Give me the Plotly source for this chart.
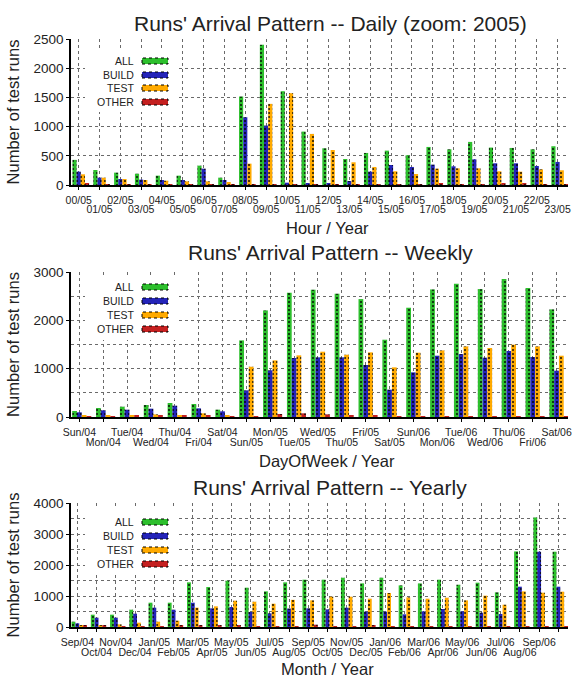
import plotly.graph_objects as go

# ---------------- data ----------------
hour_labels = ["00/05", "01/05", "02/05", "03/05", "04/05", "05/05", "06/05", "07/05",
               "08/05", "09/05", "10/05", "11/05", "12/05", "13/05", "14/05", "15/05",
               "16/05", "17/05", "18/05", "19/05", "20/05", "21/05", "22/05", "23/05"]
all_daily = [430, 257, 212, 194, 160, 160, 332, 126, 1516, 2402, 1607, 915,
             629, 446, 549, 589, 509, 652, 612, 738, 641, 635, 612, 664]
build_daily = [229, 126, 103, 92, 86, 86, 280, 86, 1161, 1018, 40, 34,
               34, 69, 229, 343, 309, 349, 320, 440, 372, 372, 326, 395]
test_daily = [183, 126, 103, 86, 74, 63, 63, 51, 366, 1390, 1573, 875,
              600, 389, 309, 235, 189, 280, 286, 286, 235, 229, 269, 252]
other_daily = [20, 15, 15, 10, 5, 5, 5, 10, 10, 10, 5, 5,
               10, 5, 17, 17, 17, 29, 17, 17, 34, 34, 17, 17]

dow_labels = ["Sun/04", "Mon/04", "Tue/04", "Wed/04", "Thu/04", "Fri/04", "Sat/04",
              "Sun/05", "Mon/05", "Tue/05", "Wed/05", "Thu/05", "Fri/05", "Sat/05",
              "Sun/06", "Mon/06", "Tue/06", "Wed/06", "Thu/06", "Fri/06", "Sat/06"]
all_weekly = [124, 186, 214, 248, 290, 269, 152, 1586, 2207, 2572, 2635, 2552, 2441, 1600,
              2262, 2641, 2759, 2648, 2855, 2669, 2228]
build_weekly = [97, 138, 152, 172, 234, 179, 117, 552, 966, 1221, 1235, 1235, 1076, 566,
                924, 1269, 1303, 1228, 1366, 1241, 959]
test_weekly = [21, 28, 41, 55, 41, 76, 28, 1041, 1172, 1276, 1352, 1290, 1338, 1028,
               1331, 1379, 1462, 1428, 1497, 1462, 1269]
other_weekly = [14, 14, 34, 34, 28, 34, 14, 14, 62, 76, 55, 34, 34, 14,
                7, 7, 5, 5, 5, 5, 5]

month_labels = ["Sep/04", "Oct/04", "Nov/04", "Dec/04", "Jan/05", "Feb/05", "Mar/05",
                "Apr/05", "May/05", "Jun/05", "Jul/05", "Aug/05", "Sep/05", "Oct/05",
                "Nov/05", "Dec/05", "Jan/06", "Feb/06", "Mar/06", "Apr/06", "May/06",
                "Jun/06", "Jul/06", "Aug/06", "Sep/06", "Oct/06"]
all_yearly = [172, 398, 398, 559, 785, 785, 1441, 1290, 1494, 1269, 1150, 1441, 1527,
              1527, 1591, 1408, 1591, 1344, 1408, 1527, 1365, 1430, 1118, 2440, 3537, 2430]
build_yearly = [118, 301, 301, 430, 624, 559, 785, 602, 645, 484, 441, 596, 602,
                570, 624, 495, 495, 409, 505, 581, 505, 462, 419, 1301, 2430, 1301]
test_yearly = [43, 54, 86, 140, 172, 204, 624, 667, 849, 817, 752, 876, 860,
               978, 978, 914, 1097, 957, 914, 946, 860, 1011, 720, 1150, 1107, 1140]
other_yearly = [54, 43, 22, 11, 22, 54, 43, 65, 43, 5, 5, 5, 75,
                22, 32, 43, 5, 3, 3, 3, 3, 3, 3, 3, 3, 3]

series_names = ["ALL", "BUILD", "TEST", "OTHER"]
series_colors = ["#2dbf2d", "#2424b8", "#ffaa00", "#c42020"]

titles = ["Runs' Arrival Pattern -- Daily (zoom: 2005)",
          "Runs' Arrival Pattern -- Weekly",
          "Runs' Arrival Pattern -- Yearly"]
xtitles = ["Hour / Year", "DayOfWeek / Year", "Month / Year"]
ytitle = "Number of test runs"

# ---------------- layout geometry (pixels) ----------------
W, H = 573, 677
L, R = 71, 568
panels = [
    dict(top=39, bottom=185, ymax=2500, dtick=500, xr=[-0.37, 23.5], gap=9,
         labels=hour_labels, data=[all_daily, build_daily, test_daily, other_daily],
         title_y=23, xtitle_y=228, leg_y=[61, 75, 88, 102], box=[85, 177, 49, 112]),
    dict(top=272, bottom=417, ymax=3000, dtick=1000, xr=[-0.35, 20.48], gap=10,
         labels=dow_labels, data=[all_weekly, build_weekly, test_weekly, other_weekly],
         title_y=252, xtitle_y=461, leg_y=[287, 301, 315, 329], box=[85, 177, 277, 340]),
    dict(top=503, bottom=627, ymax=4000, dtick=1000, xr=[-0.33, 25.5], gap=10.5,
         labels=month_labels, data=[all_yearly, build_yearly, test_yearly, other_yearly],
         title_y=487, xtitle_y=669, leg_y=[522, 536, 550, 564], box=[85, 177, 508, 572]),
]

FONT = "Liberation Sans, Arial, sans-serif"
GRID = "#6a6a6a"
TXT = "#222"

def px2xp(px):
    return (px - L) / (R - L)

def py2yp(py):
    return 1 - py / H

fig = go.Figure()
offsets = [-0.3, -0.1, 0.1, 0.3]
layout = dict(width=W, height=H, margin=dict(l=L, r=W - R, t=0, b=0),
              plot_bgcolor="white", paper_bgcolor="white", showlegend=False,
              barmode="overlay", font=dict(family=FONT, color="black"))
annotations = []
shapes = []

for i, p in enumerate(panels):
    n = len(p["labels"])
    xs = list(range(n))
    xa = "x" if i == 0 else f"x{i+1}"
    ya = "y" if i == 0 else f"y{i+1}"
    ov = f"x{i+4}"
    for k, (nm, col) in enumerate(zip(series_names, series_colors)):
        fig.add_trace(go.Bar(
            x=xs, y=p["data"][k], name=nm, xaxis=xa, yaxis=ya,
            width=0.2, offset=offsets[k],
            marker=dict(color=col, line=dict(width=0),
                        pattern=dict(shape=".", fgcolor="black", fgopacity=0.85,
                                     size=4, solidity=0.22)),
        ))
    fig.add_trace(go.Scatter(x=[0], y=[None], xaxis=ov, yaxis=ya, showlegend=False,
                             hoverinfo="skip", mode="markers"))
    dom = [py2yp(p["bottom"]), py2yp(p["top"])]
    axkey = "xaxis" if i == 0 else f"xaxis{i+1}"
    aykey = "yaxis" if i == 0 else f"yaxis{i+1}"
    even_text = [lab if j % 2 == 0 else "" for j, lab in enumerate(p["labels"])]
    odd_vals = [j for j in xs if j % 2 == 1]
    odd_text = [p["labels"][j] for j in odd_vals]
    layout[axkey] = dict(
        domain=[0, 1], anchor=ya, range=p["xr"], tickmode="array",
        tickvals=xs, ticktext=even_text, ticks="outside", ticklen=3,
        tickcolor="black", showline=True, linecolor="black", linewidth=1.5,
        showgrid=True, gridcolor=GRID, griddash="dot", gridwidth=1,
        zeroline=False, tickfont=dict(size=10.5, family=FONT, color=TXT),
        tickangle=0, fixedrange=True, automargin=False, ticklabelstandoff=2,
    )
    layout[f"xaxis{i+4}"] = dict(
        overlaying=xa, anchor=ya, side="bottom", range=p["xr"], tickmode="array",
        tickvals=odd_vals, ticktext=odd_text, ticks="outside", ticklen=3 + p["gap"],
        tickcolor="rgba(0,0,0,0)", showline=False, ticklabelstandoff=2,
        showgrid=False, zeroline=False, automargin=False,
        tickfont=dict(size=10.5, family=FONT, color=TXT), tickangle=0,
    )
    ydict = dict(
        domain=dom, anchor=xa, range=[0, p["ymax"] * 1.0005], tickmode="linear",
        tick0=0, dtick=p["dtick"], ticks="outside", ticklen=3, tickcolor="black",
        showline=True, linecolor="black", linewidth=1.5,
        showgrid=True, gridcolor=GRID, griddash="dot", gridwidth=1,
        zeroline=False, tickfont=dict(size=13.5, family=FONT, color=TXT),
        automargin=False,
        title=dict(text=ytitle, font=dict(size=16.5, family=FONT, color=TXT),
                   standoff=10),
    )
    if p["dtick"] == 1000:
        ydict["minor"] = dict(dtick=500, tick0=0, showgrid=True, gridcolor=GRID,
                              griddash="dot", gridwidth=1, ticks="")
    layout[aykey] = ydict

    annotations.append(dict(text=titles[i], xref="paper", yref="paper",
                            x=px2xp(330), y=py2yp(p["title_y"]), xanchor="center",
                            yanchor="middle", showarrow=False,
                            font=dict(size=21, family=FONT, color=TXT)))
    annotations.append(dict(text=xtitles[i], xref="paper", yref="paper",
                            x=px2xp(327), y=py2yp(p["xtitle_y"]), xanchor="center",
                            yanchor="middle", showarrow=False,
                            font=dict(size=16.5, family=FONT, color=TXT)))
    bx0, bx1, by0, by1 = p["box"]
    shapes.append(dict(type="rect", xref="paper", yref="paper",
                       x0=px2xp(bx0), x1=px2xp(bx1), y0=py2yp(by1), y1=py2yp(by0),
                       fillcolor="white", line=dict(width=0), layer="above"))
    for k, (nm, col) in enumerate(zip(series_names, series_colors)):
        ly = p["leg_y"][k]
        annotations.append(dict(text=nm, xref="paper", yref="paper",
                                x=px2xp(136), y=py2yp(ly), xanchor="right",
                                yanchor="middle", showarrow=False,
                                font=dict(size=10.5, family=FONT, color=TXT)))
        shapes.append(dict(type="rect", xref="paper", yref="paper",
                           x0=px2xp(142), x1=px2xp(168), y0=py2yp(ly + 3), y1=py2yp(ly - 3),
                           fillcolor=col, line=dict(color="black", width=1, dash="dot"),
                           layer="above"))

layout["annotations"] = annotations
layout["shapes"] = shapes
fig.update_layout(**layout)
fig.write_html("out.html", config={"displayModeBar": False})
